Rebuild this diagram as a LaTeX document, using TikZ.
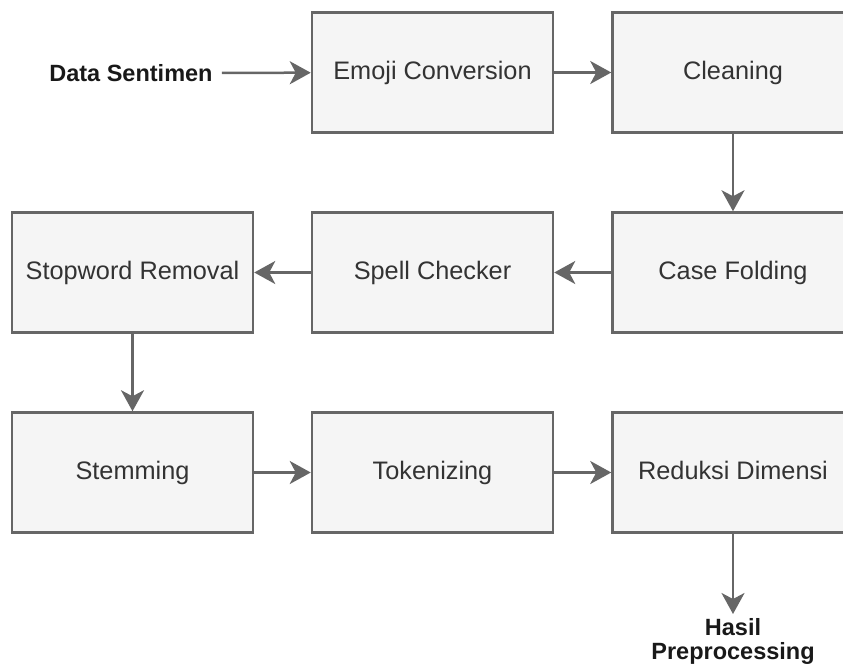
\documentclass[tikz,border=0pt]{standalone}
\usepackage{fontspec}
\setmainfont{Liberation Sans}
\usetikzlibrary{arrows.meta}
\definecolor{boxfill}{HTML}{F5F5F5}
\definecolor{boxline}{HTML}{666666}
\definecolor{boxtext}{HTML}{333333}
\tikzset{
  procbox/.style={draw=boxline, line width=2.5pt, fill=boxfill, minimum width=241pt, minimum height=120pt, inner sep=0pt, text=boxtext, text height=18.5pt, text depth=5pt, font=\fontsize{25.3}{30}\selectfont},
  flow/.style={draw=boxline, line width=2.5pt, -{Stealth[length=21pt, width=23pt, inset=6pt]}},
  outlabel/.style={text=black!90, font=\bfseries\fontsize{23.5}{24.7}\selectfont}
}
\begin{document}
\begin{tikzpicture}[x=1pt, y=-1pt]
\useasboundingbox (0,0) rectangle (843,670);
\node[procbox] (emoji) at (432.5,72.5) {Emoji Conversion};
\node[procbox] (clean) at (733,72.5) {Cleaning};
\node[procbox] (case) at (733,272.5) {Case Folding};
\node[procbox] (spell) at (432.5,272.5) {Spell Checker};
\node[procbox] (stop) at (132.5,272.5) {Stopword Removal};
\node[procbox] (stem) at (132.5,472.5) {Stemming};
\node[procbox] (token) at (432.5,472.5) {Tokenizing};
\node[procbox] (reduk) at (733,472.5) {Reduksi Dimensi};
\node[outlabel, inner xsep=9pt, inner ysep=2pt] (data) at (131,73) {Data Sentimen};
\node[outlabel, align=center, anchor=north, inner sep=1pt] (hasil) at (733,614) {\rule{0pt}{20pt}Hasil\\Preprocessing};
\draw[flow] (data) -- (emoji);
\draw[flow] (emoji) -- (clean);
\draw[flow] (clean) -- (case);
\draw[flow] (case) -- (spell);
\draw[flow] (spell) -- (stop);
\draw[flow] (stop) -- (stem);
\draw[flow] (stem) -- (token);
\draw[flow] (token) -- (reduk);
\draw[flow] (reduk) -- (hasil);
\end{tikzpicture}
\end{document}
